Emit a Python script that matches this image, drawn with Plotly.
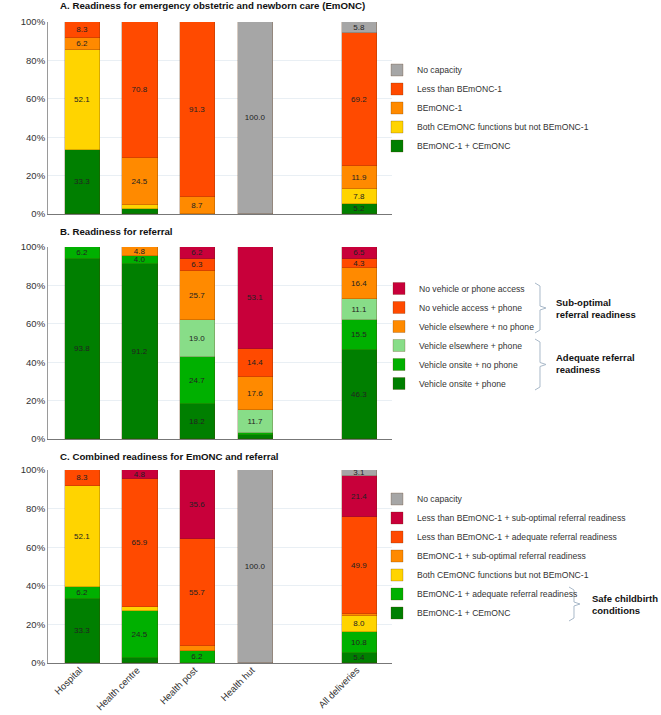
import plotly.graph_objects as go
from plotly.subplots import make_subplots

W, H = 661, 715

sites = ["Hospital", "Health centre", "Health post", "Health hut", "All deliveries"]

# A. Readiness for EmONC (stack order bottom -> top)
emonc_names = [
    "BEmONC-1 + CEmONC",
    "Both CEmONC functions but not BEmONC-1",
    "BEmONC-1",
    "Less than BEmONC-1",
    "No capacity",
]
emonc_full = [33.3, 2.5, 0, 0, 5.2]
emonc_both_c = [52.1, 2.2, 0, 0, 7.8]
emonc_b1 = [6.2, 24.5, 8.7, 0, 11.9]
emonc_less = [8.3, 70.8, 91.3, 0, 69.2]
emonc_none = [0, 0, 0, 100.0, 5.8]

# B. Readiness for referral
ref_names = [
    "Vehicle onsite + phone",
    "Vehicle onsite + no phone",
    "Vehicle elsewhere + phone",
    "Vehicle elsewhere + no phone",
    "No vehicle access + phone",
    "No vehicle or phone access",
]
ref_onsite_phone = [93.8, 91.2, 18.2, 2.0, 46.3]
ref_onsite_nophone = [6.2, 4.0, 24.7, 1.2, 15.5]
ref_else_phone = [0, 0, 19.0, 11.7, 11.1]
ref_else_nophone = [0, 4.8, 25.7, 17.6, 16.4]
ref_novehicle_phone = [0, 0, 6.3, 14.4, 4.3]
ref_nothing = [0, 0, 6.2, 53.1, 6.5]

# C. Combined readiness
comb_names = [
    "BEmONC-1 + CEmONC",
    "BEmONC-1 + adequate referral readiness",
    "Both CEmONC functions but not BEmONC-1",
    "BEmONC-1 + sub-optimal referral readiness",
    "Less than BEmONC-1 + adequate referral readiness",
    "Less than BEmONC-1 + sub-optimal referral readiness",
    "No capacity",
]
comb_full = [33.3, 2.5, 0, 0, 5.4]
comb_b1_adequate = [6.2, 24.5, 6.2, 0, 10.8]
comb_both_c = [52.1, 2.2, 0, 0, 8.0]
comb_b1_subopt = [0, 0, 2.5, 0, 1.4]
comb_less_adequate = [8.3, 65.9, 55.7, 0, 49.9]
comb_less_subopt = [0, 4.8, 35.6, 0, 21.4]
comb_none = [0, 0, 0, 100.0, 3.1]

y_ticks = [0, 20, 40, 60, 80, 100]

DKGREEN = "#007f00"
GREEN = "#00b000"
LTGREEN = "#88dd88"
YELLOW = "#ffd400"
ORANGE = "#ff8a00"
REDORANGE = "#ff4a00"
CRIMSON = "#c8003a"
GREY = "#a6a6a6"

emonc_colors = [DKGREEN, YELLOW, ORANGE, REDORANGE, GREY]
ref_colors = [DKGREEN, GREEN, LTGREEN, ORANGE, REDORANGE, CRIMSON]
comb_colors = [DKGREEN, GREEN, YELLOW, ORANGE, REDORANGE, CRIMSON, GREY]

panels = [
    (emonc_names, [emonc_full, emonc_both_c, emonc_b1, emonc_less, emonc_none], emonc_colors),
    (ref_names, [ref_onsite_phone, ref_onsite_nophone, ref_else_phone, ref_else_nophone,
                 ref_novehicle_phone, ref_nothing], ref_colors),
    (comb_names, [comb_full, comb_b1_adequate, comb_both_c, comb_b1_subopt,
                  comb_less_adequate, comb_less_subopt, comb_none], comb_colors),
]

FONT = "Liberation Sans, Arial, sans-serif"
x_pos = [0, 1, 2, 3, 4.82]   # gap before "All deliveries"


def px_x(p):
    return p / W


def px_y(p):
    return 1 - p / H


fig = make_subplots(rows=3, cols=1)

legend_keys = ["legend", "legend2", "legend3"]
for i, (names, series, colors) in enumerate(panels):
    for name, vals, col in zip(names, series, colors):
        fig.add_trace(
            go.Bar(
                x=x_pos,
                y=[v if v else None for v in vals],
                name=name,
                width=0.61,
                marker=dict(color=col, line=dict(color="rgba(90,40,0,0.35)", width=0.7)),
                text=[f"{v:.1f}" if v >= 3 else "" for v in vals],
                textposition="inside",
                insidetextanchor="middle",
                textangle=0,
                constraintext="none",
                textfont=dict(size=8, color="#222", family=FONT),
                legend=legend_keys[i],
                hoverinfo="skip",
            ),
            row=i + 1, col=1,
        )

# plot area rows in pixels: (top of 100%, bottom at 0%)
rows_px = [(22, 214), (247, 439), (470, 663)]
for i, (top, bot) in enumerate(rows_px):
    fig.update_yaxes(
        domain=[px_y(bot), px_y(top)], range=[0, 100],
        tickvals=y_ticks, ticktext=[f"{v}%" for v in y_ticks],
        showgrid=True, gridcolor="#e9eff4", gridwidth=1, zeroline=False,
        showline=True, linecolor="#9a9a9a", linewidth=1, ticks="",
        tickfont=dict(size=9.5, color="#333", family=FONT), automargin=False,
        row=i + 1, col=1,
    )
    fig.update_xaxes(
        domain=[px_x(48), px_x(392)], range=[-0.6, 5.38],
        tickvals=x_pos, ticktext=sites, tickangle=-45,
        ticklabelstandoff=-3, ticklabelshift=-3,
        showticklabels=(i == 2), showgrid=False, zeroline=False,
        showline=True, linecolor="#777", linewidth=1, ticks="",
        tickfont=dict(size=9.5, color="#333", family=FONT), automargin=False,
        row=i + 1, col=1,
    )

legend_style = dict(
    xanchor="left", yanchor="middle", traceorder="reversed",
    font=dict(size=8.6, color="#333", family=FONT), bgcolor="rgba(0,0,0,0)",
    itemwidth=30, itemclick=False, itemdoubleclick=False,
)
legend_centres = [108, 336, 556]
fig.update_layout(
    legend=dict(x=px_x(377), y=px_y(legend_centres[0]), **legend_style),
    legend2=dict(x=px_x(379), y=px_y(legend_centres[1]), **legend_style),
    legend3=dict(x=px_x(377), y=px_y(legend_centres[2]), **legend_style),
)

titles = [
    ("A. Readiness for emergency obstetric and newborn care (EmONC)", 6),
    ("B. Readiness for referral", 232),
    ("C. Combined readiness for EmONC and referral", 456),
]
for text, py in titles:
    fig.add_annotation(
        text=f"<b>{text}</b>", x=px_x(58), y=px_y(py), xref="paper", yref="paper",
        xanchor="left", yanchor="middle", showarrow=False,
        font=dict(size=9.7, color="#111", family=FONT),
    )


def brace(x, y0, y1):
    # curly bracket opening to the left, tip pointing right
    ym = (y0 + y1) / 2
    pts = [
        (x - 5, y0), (x, y0 + 3), (x, ym - 2), (x + 6, ym),
        (x, ym + 2), (x, y1 - 3), (x - 5, y1),
    ]
    return "M " + " L ".join(f"{px_x(a):.5f},{px_y(b):.5f}" for a, b in pts)


groups = [
    (540, 283, 333, "Sub-optimal<br>referral readiness", 554, 308),
    (540, 339, 390, "Adequate referral<br>readiness", 554, 364),
    (574, 587, 621, "Safe childbirth<br>conditions", 590, 604),
]
for bx, y0, y1, label, tx, ty in groups:
    fig.add_shape(type="path", path=brace(bx, y0, y1), xref="paper", yref="paper",
                  line=dict(color="#a9b9c9", width=1))
    fig.add_annotation(
        text=f"<b>{label}</b>", x=px_x(tx), y=px_y(ty), xref="paper", yref="paper",
        xanchor="left", yanchor="middle", align="left", showarrow=False,
        font=dict(size=9.5, color="#111", family=FONT),
    )

fig.update_layout(
    width=W, height=H,
    margin=dict(l=0, r=0, t=0, b=0),
    barmode="stack",
    bargap=0,
    plot_bgcolor="white",
    paper_bgcolor="white",
    font=dict(family=FONT, color="#333"),
    showlegend=True,
)

# drop the default 8px page margin so the figure fills the window
fig.write_html(
    "out.html",
    config={"displayModeBar": False},
    post_script="document.body.style.margin = '0';",
)
